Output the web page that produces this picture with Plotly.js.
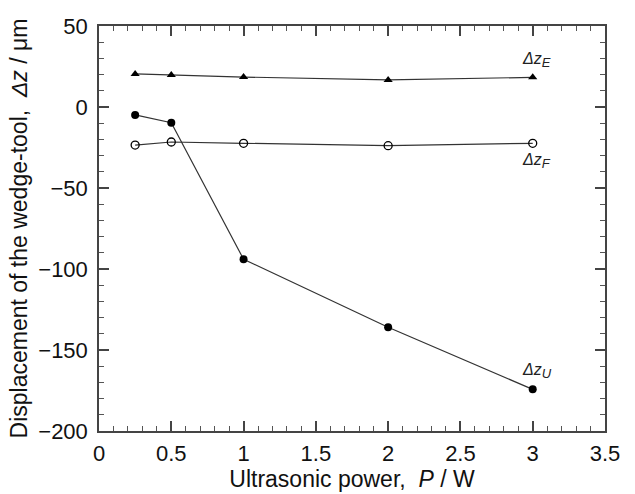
<!DOCTYPE html>
<html>
<head>
<meta charset="utf-8">
<script src="https://cdn.plot.ly/plotly-3.0.1.min.js"></script>
<style>html,body{margin:0;padding:0;background:#fff;}#chart{width:635px;height:494px;}</style>
</head>
<body>
<div id="chart"></div>
<script>
const power = [0.25, 0.5, 1, 2, 3];
const dzE = [20.4, 19.8, 18.5, 16.7, 18.3];
const dzF = [-23.5, -21.6, -22.4, -23.9, -22.4];
const dzU = [-4.9, -9.7, -94, -136, -174.3];
const xRange = [0, 3.5];
const yRange = [-200, 50];
const xMajor = 0.5, xMinor = 0.1;
const yMajor = 50, yMinor = 10;

const FONT = 'Liberation Sans, Arial, sans-serif';
const lineStyle = {color: '#333', width: 1.2};

const traces = [
  {x: power, y: dzE, mode: 'lines+markers', name: 'ΔzE', line: lineStyle,
   marker: {symbol: 'triangle-up', size: 8, color: '#000'}},
  {x: power, y: dzF, mode: 'lines+markers', name: 'ΔzF', line: lineStyle,
   marker: {symbol: 'circle-open', size: 8, color: '#000', line: {width: 1.3, color: '#000'}}},
  {x: power, y: dzU, mode: 'lines+markers', name: 'ΔzU', line: lineStyle,
   marker: {symbol: 'circle', size: 8, color: '#000'}}
];

const last = power.length - 1;
const annFont = {family: FONT, size: 16, color: '#222'};
const sub = s => '<i>Δz</i><sub><span style="font-size:13px"><i>' + s + '</i></span></sub>';

const axisCommon = {
  showline: true, linecolor: '#444', linewidth: 1.5, mirror: 'allticks',
  ticks: 'inside', ticklen: 10, tickwidth: 1.5, tickcolor: '#444',
  showgrid: false, zeroline: false,
  tickfont: {family: FONT, size: 22, color: '#111'}
};
const minorStyle = {ticklen: 5, tickwidth: 1.3, tickcolor: '#555', ticks: 'inside'};

const layout = {
  width: 635, height: 494,
  margin: {l: 99, r: 30, t: 26, b: 63},
  paper_bgcolor: '#fff', plot_bgcolor: '#fff',
  showlegend: false,
  font: {family: FONT, color: '#111'},
  xaxis: Object.assign({}, axisCommon, {
    range: xRange, tick0: 0, dtick: xMajor,
    minor: Object.assign({dtick: xMinor}, minorStyle),
    ticklabelstandoff: 2,
    title: {text: 'Ultrasonic power,  <i>P</i> / W', font: {family: FONT, size: 23, color: '#111'}, standoff: 6}
  }),
  yaxis: Object.assign({}, axisCommon, {
    range: yRange, tick0: 0, dtick: yMajor,
    minor: Object.assign({dtick: yMinor}, minorStyle),
    ticklabelstandoff: 5,
    title: {text: 'Displacement of the wedge-tool,  <i>Δz</i> / μm', font: {family: FONT, size: 23, color: '#111'}, standoff: 4}
  }),
  annotations: [
    {x: power[last], y: dzE[last], xref: 'x', yref: 'y', text: sub('E'), showarrow: false,
     xshift: 4, yshift: 17, font: annFont},
    {x: power[last], y: dzF[last], xref: 'x', yref: 'y', text: sub('F'), showarrow: false,
     xshift: 4, yshift: -18, font: annFont},
    {x: power[last], y: dzU[last], xref: 'x', yref: 'y', text: sub('U'), showarrow: false,
     xshift: 4, yshift: 18, font: annFont}
  ]
};

Plotly.newPlot('chart', traces, layout, {displayModeBar: false});
</script>
</body>
</html>
